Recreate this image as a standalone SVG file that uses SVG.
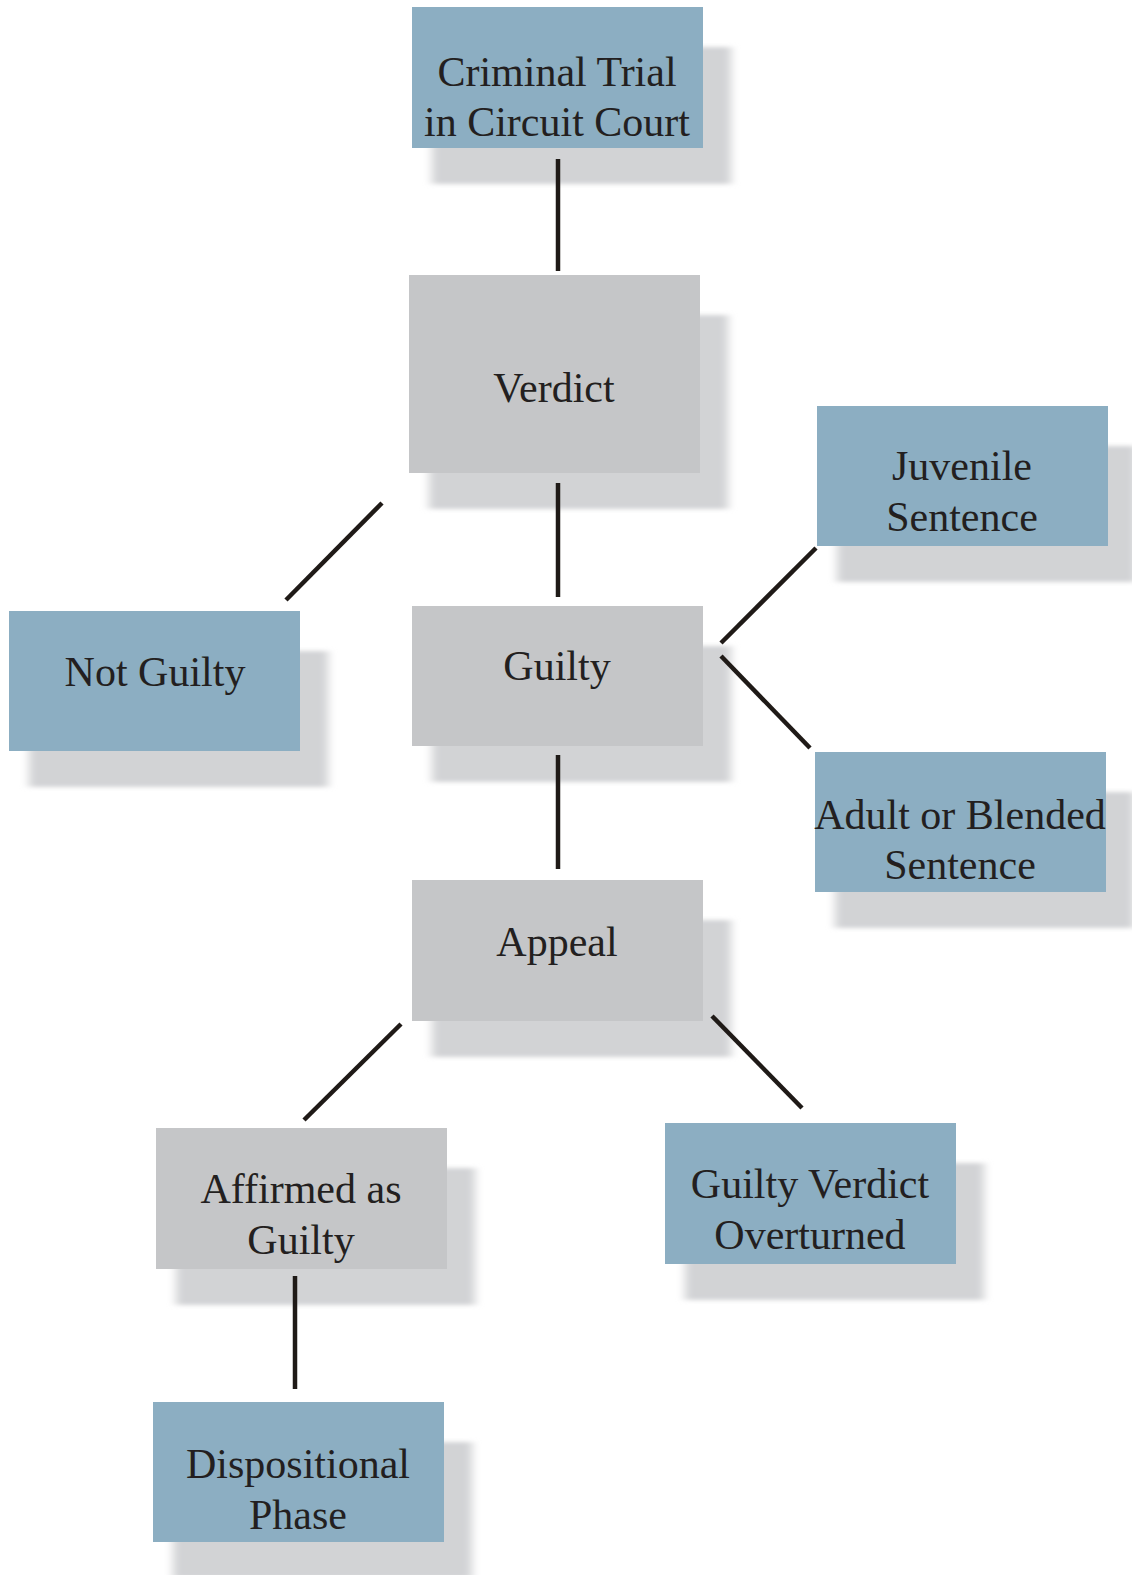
<svg xmlns="http://www.w3.org/2000/svg" width="1132" height="1575" viewBox="0 0 1132 1575">
<defs>
<filter id="sh" x="-10%" y="-20%" width="120%" height="140%"><feGaussianBlur stdDeviation="5 2"/></filter>
</defs>
<style>
.blue{fill:#8caec2}
.gray{fill:#c5c6c8}
.shd{fill:#d2d3d5;filter:url(#sh)}
text{font-family:"Liberation Serif","Times New Roman",serif;font-size:42px;fill:#231f20;text-anchor:middle}
.c{stroke:#1f1a17;stroke-width:4.5;fill:none}
</style>
<rect width="1132" height="1575" fill="#ffffff"/>
<g id="shadows">
<rect class="shd" x="432" y="47" width="299" height="137"/>
<rect class="shd" x="429" y="315" width="299" height="194"/>
<rect class="shd" x="432" y="646" width="299" height="136"/>
<rect class="shd" x="29" y="651" width="299" height="136"/>
<rect class="shd" x="837" y="446" width="299" height="136"/>
<rect class="shd" x="835" y="792" width="299" height="136"/>
<rect class="shd" x="432" y="920" width="299" height="137"/>
<rect class="shd" x="176" y="1168" width="299" height="137"/>
<rect class="shd" x="685" y="1163" width="299" height="137"/>
<rect class="shd" x="173" y="1442" width="299" height="136"/>
</g>
<g id="connectors">
<line class="c" x1="558" y1="159" x2="558" y2="271"/>
<line class="c" x1="558" y1="483" x2="558" y2="597"/>
<line class="c" x1="382" y1="503" x2="286" y2="600"/>
<line class="c" x1="816" y1="548" x2="721" y2="643"/>
<line class="c" x1="721" y1="656" x2="810" y2="748"/>
<line class="c" x1="558" y1="755" x2="558" y2="869"/>
<line class="c" x1="401" y1="1024" x2="304" y2="1120"/>
<line class="c" x1="712" y1="1016" x2="802" y2="1108"/>
<line class="c" x1="295" y1="1276" x2="295" y2="1389"/>
</g>
<g id="trial"><rect class="blue" x="412" y="7" width="291" height="141"/><text x="557" y="86">Criminal Trial</text><text x="557" y="136">in Circuit Court</text></g>
<g id="verdict"><rect class="gray" x="409" y="275" width="291" height="198"/><text x="554" y="402">Verdict</text></g>
<g id="guilty"><rect class="gray" x="412" y="606" width="291" height="140"/><text x="557" y="680">Guilty</text></g>
<g id="notguilty"><rect class="blue" x="9" y="611" width="291" height="140"/><text x="155" y="686">Not Guilty</text></g>
<g id="juvenile"><rect class="blue" x="817" y="406" width="291" height="140"/><text x="962" y="480">Juvenile</text><text x="962" y="531">Sentence</text></g>
<g id="adult"><rect class="blue" x="815" y="752" width="291" height="140"/><text x="960" y="829">Adult or Blended</text><text x="960" y="879">Sentence</text></g>
<g id="appeal"><rect class="gray" x="412" y="880" width="291" height="141"/><text x="557" y="956">Appeal</text></g>
<g id="affirmed"><rect class="gray" x="156" y="1128" width="291" height="141"/><text x="301" y="1203">Affirmed as</text><text x="301" y="1254">Guilty</text></g>
<g id="overturned"><rect class="blue" x="665" y="1123" width="291" height="141"/><text x="810" y="1198">Guilty Verdict</text><text x="810" y="1249">Overturned</text></g>
<g id="dispositional"><rect class="blue" x="153" y="1402" width="291" height="140"/><text x="298" y="1478">Dispositional</text><text x="298" y="1529">Phase</text></g>
</svg>
